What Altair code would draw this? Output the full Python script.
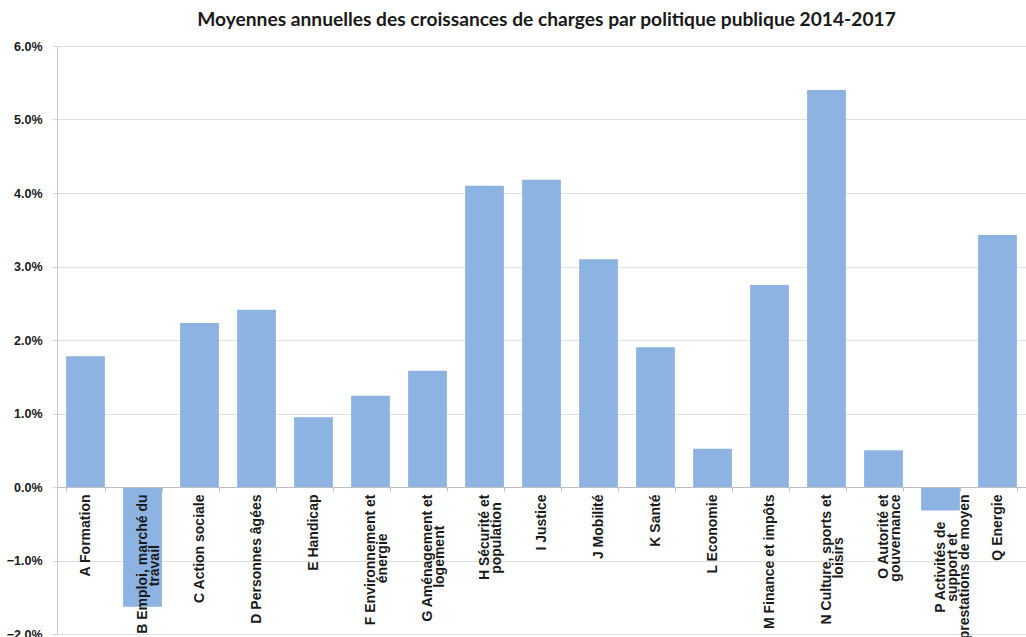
import altair as alt
import pandas as pd

# Policy areas (line breaks marked with "|") and their average yearly growth of charges, in %
categories = [
    "A Formation",
    "B Emploi, marché du|travail",
    "C Action sociale",
    "D Personnes âgées",
    "E Handicap",
    "F Environnement et|énergie",
    "G Aménagement et|logement",
    "H Sécurité et|population",
    "I Justice",
    "J Mobilité",
    "K Santé",
    "L Economie",
    "M Finance et impôts",
    "N Culture, sports et|loisirs",
    "O Autorité et|gouvernance",
    "P Activités de|support et|prestations de moyen",
    "Q Energie",
]
growth_pct = [1.78, -1.63, 2.23, 2.41, 0.95, 1.24, 1.58, 4.10, 4.18, 3.10,
              1.90, 0.52, 2.75, 5.40, 0.50, -0.32, 3.43]
y_ticks_pct = [-2, -1, 0, 1, 2, 3, 4, 5, 6]

# Approximate advance widths of Arial/Liberation Sans Bold (1/1000 em), used to
# centre the shorter lines of a rotated, top-anchored multi-line label.
NBSP, ZWSP = "\u00a0", "\u200b"
_ADV = {
    " ": 278, ",": 278, NBSP: 278,
    "A": 722, "B": 722, "C": 722, "D": 722, "E": 667, "F": 611, "G": 778, "H": 722,
    "I": 278, "J": 556, "K": 722, "L": 611, "M": 833, "N": 722, "O": 778, "P": 667,
    "Q": 778,
    "a": 556, "b": 611, "c": 556, "d": 611, "e": 556, "f": 333, "g": 611, "h": 611,
    "i": 278, "j": 278, "k": 556, "l": 278, "m": 889, "n": 611, "o": 611, "p": 611,
    "q": 611, "r": 389, "s": 556, "t": 333, "u": 611, "v": 556, "w": 778, "x": 556,
    "y": 556, "z": 500, "é": 556, "â": 556, "ô": 611, "è": 556, "ê": 556,
}


def _width(s):
    return sum(_ADV.get(ch, 556) for ch in s)


def centred_lines(label):
    # pad the end of shorter lines with no-break spaces (closed by a zero-width
    # space so the padding is not trimmed away) so every line is centred
    lines = label.split("|")
    longest = max(_width(l) for l in lines)
    out = []
    for l in lines:
        pad = round((longest - _width(l)) / 2 / _ADV[NBSP])
        out.append(l + (NBSP * pad + ZWSP if pad else ""))
    return "|".join(out)


display_labels = [centred_lines(c) for c in categories]

df = pd.DataFrame({"politique": display_labels, "croissance": [v / 100 for v in growth_pct]})

W, H = 969, 588
y_min, y_max = y_ticks_pct[0] / 100, y_ticks_pct[-1] / 100
zero_offset = -H * (0 - y_min) / (y_max - y_min)  # lift the category axis up to the 0% line

bars = alt.Chart(df).mark_bar(color="#8DB3E2").encode(
    x=alt.X(
        "politique:N",
        sort=display_labels,
        scale=alt.Scale(paddingInner=0.32, paddingOuter=0.16),
        axis=alt.Axis(
            title=None,
            orient="bottom",
            offset=zero_offset,
            labelExpr="split(datum.label, '|')",
            labelAngle=270,
            labelAlign="right",
            labelBaseline="middle",
            labelFont="Liberation Sans",
            labelFontWeight="bold",
            labelFontSize=14,
            labelLineHeight=12,
            labelColor="#1a1a1a",
            labelPadding=3,
            labelOverlap=False,
            labelFlush=False,
            labelLimit=300,
            tickBand="extent",
            tickSize=4,
            tickColor="#bfbfbf",
            domainColor="#bfbfbf",
            zindex=1,
        ),
    ),
    y=alt.Y(
        "croissance:Q",
        scale=alt.Scale(domain=[y_min, y_max], nice=False, zero=False),
        axis=alt.Axis(
            title=None,
            values=[v / 100 for v in y_ticks_pct],
            format=".1%",
            labelFont="Liberation Sans",
            labelFontWeight="bold",
            labelFontSize=12.5,
            labelColor="#1a1a1a",
            labelPadding=10,
            tickSize=5,
            tickColor="#d9d9d9",
            gridColor="#e0e0e0",
            domainColor="#c8c8c8",
        ),
    ),
)

chart = bars.properties(
    width=W,
    height=H,
    autosize=alt.AutoSizeParams(type="none"),
    padding={"left": 57, "top": 46, "right": 0, "bottom": 3},
    title=alt.TitleParams(
        "Moyennes annuelles des croissances de charges par politique publique 2014-2017",
        font="Lato",
        fontSize=19.2,
        fontWeight="bold",
        color="#1a1a1a",
        anchor="middle",
        frame="group",
        offset=10,
        dx=5,
    ),
).configure_view(stroke=None).configure(background="white")

chart.save("out.html", embed_options={"renderer": "svg", "actions": False})
